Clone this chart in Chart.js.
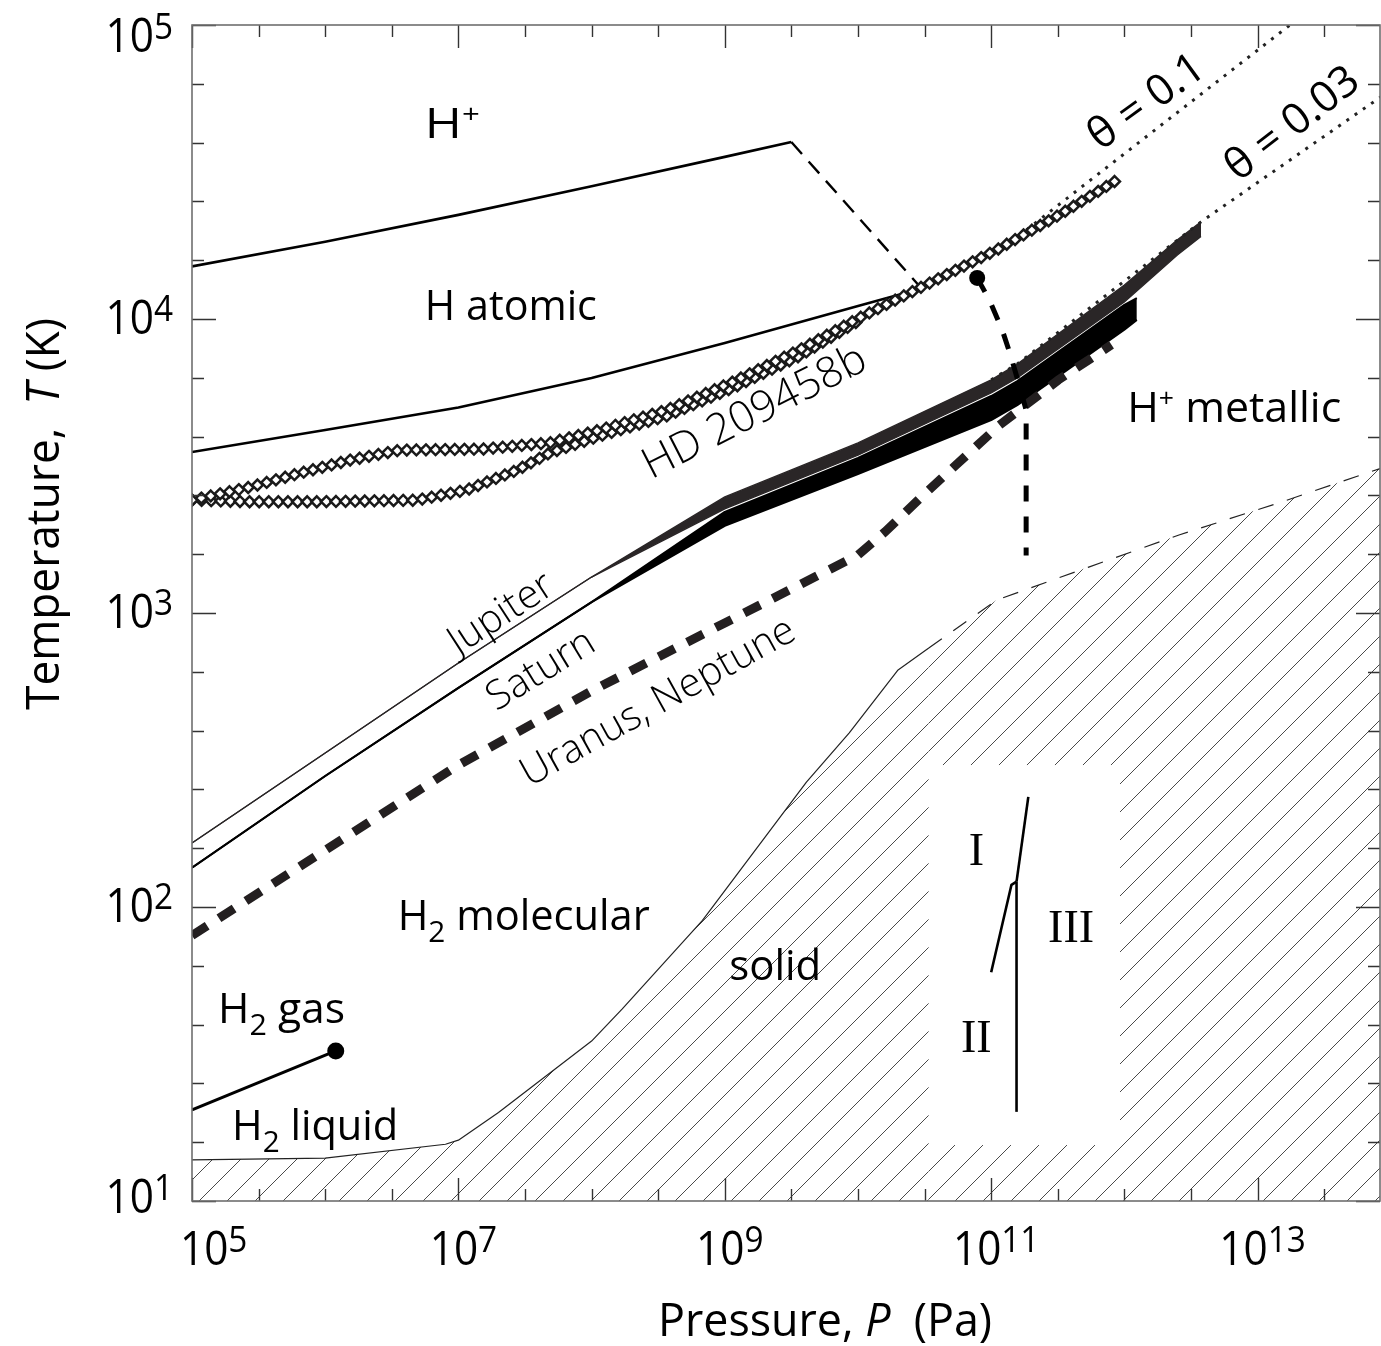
<!DOCTYPE html>
<html>
<head>
<meta charset="utf-8">
<script src="https://cdn.jsdelivr.net/npm/chart.js@4.4.1/dist/chart.umd.min.js"></script>
<style>
  html, body { margin: 0; padding: 0; background: #fff; }
  #wrap { width: 1381px; height: 1346px; }
</style>
</head>
<body>
<div id="wrap"><canvas id="phase" width="1381" height="1346"></canvas></div>
<script>
// axis limits (Pa, K)
const pMin = 1e5, pMax = 8.3e13;
const tMin = 10, tMax = 1e5;
const xTickExp = [5, 7, 9, 11, 13];
const yTickExp = [1, 2, 3, 4, 5];

// H+ / H atomic boundary, then its dashed continuation
const ionP = [1e5, 1e6, 1e7, 1e8, 1e9, 3.16e9];
const ionT = [15100, 18300, 22600, 28300, 35600, 40000];
const ionDashP = [3.16e9, 3.0e10];
const ionDashT = [40000, 12700];

// H atomic / H2 molecular boundary
const atomP = [1e5, 1e6, 1e7, 1e8, 1e9, 1e10, 3.0e10];
const atomT = [3530, 4190, 5000, 6300, 8280, 11070, 12700];

// molecular -> metallic transition (thick dashed) and its end point
const metalP = [7.85e10, 9.7e10, 1.21e11, 1.41e11, 1.62e11, 1.83e11, 1.83e11];
const metalT = [13800, 11600, 9180, 7430, 5970, 4900, 1570];
const metalDotP = [7.85e10];
const metalDotT = [13800];

// liquid-gas line with critical point
const gasP = [1e5, 1.2e6];
const gasT = [20.4, 32.4];

// melting curve (solid part, then dashed extrapolation)
const meltSolidP = [1e5, 1e6, 8e6, 1e7, 2e7, 1e8, 1.7e8, 6.8e8, 4.1e9, 8.6e9, 2e10, 3.4e10];
const meltSolidT = [13.8, 14.0, 15.6, 16.1, 20, 35, 45, 90, 266, 391, 640, 760];
const meltDashP = [3.4e10, 1.1e11, 5.4e11, 2.57e12, 1.45e13, 8.3e13];
const meltDashT = [760, 1107, 1433, 1842, 2370, 3100];

// solid phases I / II / III
const insetBox = { pLo: 3.41e10, pHi: 9.27e11, tLo: 15.5, tHi: 304 };
const phase13P = [1.55e11, 1.9e11];
const phase13T = [122, 237];
const phase12P = [1e11, 1.42e11, 1.55e11];
const phase12T = [60, 119, 122];
const phase23P = [1.55e11, 1.55e11];
const phase23T = [20.1, 122];

// planetary interior profiles
const jupP = [1e5, 1e6, 1e7, 1e8, 1e9, 1e10, 1e11, 1.57e11, 1e12, 2.5e12, 3.76e12];
const jupTopT = [165, 334, 676, 1325, 2483, 3790, 6210, 7030, 13060, 18600, 21400];
const jupLowT = [165, 334, 676, 1325, 2261, 3440, 5600, 6300, 11430, 16500, 19100];
const satP = [1e5, 1e6, 1e7, 1e8, 1e9, 1e10, 1e11, 1.57e11, 1e12, 1.24e12];
const satTopT = [136, 279, 556, 1089, 2207, 3370, 5470, 6150, 11170, 11780];
const satLowT = [136, 279, 556, 1089, 1978, 2970, 4530, 5090, 9190, 9930];
const uraP = [1e5, 1e6, 1e7, 1e8, 1e9, 1e10, 1.6e10, 3.4e10, 1.15e11, 3.2e11, 8e11];
const uraT = [80, 156, 304, 543, 925, 1575, 1890, 2620, 4350, 6210, 8170];

// HD 209458b profiles
const hdAP = [1e5, 2.72e5, 6.46e5, 1.53e6, 3.63e6, 1.51e7, 4.84e7, 1.15e8, 3.66e8, 1.14e9, 3.63e9, 1.02e10, 3.0e10, 1.1e11, 3.24e11, 8.8e11];
const hdAT = [2420, 2680, 2990, 3310, 3580, 3610, 3790, 4190, 4900, 6100, 7850, 10080, 12840, 17180, 22600, 29700];
const hdBP = [1e5, 2.72e5, 8.7e5, 4.9e6, 1.15e7, 2.75e7, 4.84e7, 1.15e8, 3.66e8, 1.14e9, 3.63e9, 1.02e10];
const hdBT = [2420, 2390, 2390, 2420, 2620, 3060, 3500, 4000, 4680, 5820, 7480, 9880];

// degeneracy lines
const theta1P = [1.84e11, 1.75e13];
const theta1T = [20100, 100000];
const theta03P = [1e11, 1.57e11, 3.76e12, 1e14];
const theta03T = [6210, 7030, 21400, 60100];

const FONT = '"Open Sans", "DejaVu Sans", sans-serif';
const SERIF = '"Liberation Serif", "DejaVu Serif", serif';

const pairs = (P, T) => P.map((p, i) => ({ x: p, y: T[i] }));

const canvas = document.getElementById('phase');
const hatch = (() => {
  const c = document.createElement('canvas');
  c.width = 28; c.height = 28;
  const g = c.getContext('2d');
  g.strokeStyle = '#4a4a4a';
  g.lineWidth = 1;
  g.beginPath();
  g.moveTo(-1, 29); g.lineTo(29, -1);
  g.moveTo(-2, 2); g.lineTo(2, -2);
  g.moveTo(26, 30); g.lineTo(30, 26);
  g.stroke();
  return canvas.getContext('2d').createPattern(c, 'repeat');
})();

function line(label, data, color, width, order, extra) {
  return Object.assign({
    label, data, showLine: true, borderColor: color, borderWidth: width,
    pointRadius: 0, fill: false, order, borderJoinStyle: 'round'
  }, extra || {});
}

const meltData = pairs(meltSolidP, meltSolidT).concat(pairs(meltDashP, meltDashT).slice(1));
const solidCount = meltSolidP.length;

const datasets = [
  line('melting curve', meltData, '#222', 1.2, 50, {
    fill: 'start', backgroundColor: hatch,
    segment: { borderDash: c => c.p0DataIndex >= solidCount - 1 ? [16, 14] : undefined }
  }),
  line('I-III', pairs(phase13P, phase13T), '#000', 2.6, 40),
  line('I-II', pairs(phase12P, phase12T), '#000', 2.6, 40),
  line('II-III', pairs(phase23P, phase23T), '#000', 2.6, 40),
  line('liquid-gas', pairs(gasP, gasT), '#000', 3, 30),
  line('ionization', pairs(ionP, ionT), '#000', 2.6, 30),
  line('ionization (extrap.)', pairs(ionDashP, ionDashT), '#000', 2.4, 30, { borderDash: [16, 10], borderCapStyle: 'butt' }),
  line('dissociation', pairs(atomP, atomT), '#000', 2.6, 30),
  line('metallization', pairs(metalP, metalT), '#000', 5, 20, { borderDash: [16, 15], borderCapStyle: 'butt' }),
  line('Jupiter', pairs(jupP, jupTopT), '#2a2627', 1.3, 26, { fill: '+1', backgroundColor: '#2a2627' }),
  line('Jupiter low', pairs(jupP, jupLowT), '#2a2627', 1.3, 26),
  line('Saturn', pairs(satP, satTopT), '#000', 2, 24, { fill: '+1', backgroundColor: '#000' }),
  line('Saturn low', pairs(satP, satLowT), '#000', 2, 24),
  line('Uranus, Neptune', pairs(uraP, uraT), '#231f20', 9, 22, { borderDash: [18, 14], borderCapStyle: 'butt', borderJoinStyle: 'miter' }),
  line('theta 0.1', pairs(theta1P, theta1T), '#222', 3, 15, { borderDash: [3, 7], borderCapStyle: 'butt' }),
  line('theta 0.03', pairs(theta03P, theta03T), '#222', 3, 15, { borderDash: [3, 7], borderCapStyle: 'butt' }),
  line('HD 209458b a', pairs(hdAP, hdAT), 'rgba(0,0,0,0)', 0, 10, { chain: true }),
  line('HD 209458b b', pairs(hdBP, hdBT), 'rgba(0,0,0,0)', 0, 11, { chain: true }),
  { label: 'critical point', data: pairs(gasP.slice(1), gasT.slice(1)), pointRadius: 8.5, backgroundColor: '#000', borderWidth: 0, order: 1 },
  { label: 'metallization end', data: pairs(metalDotP, metalDotT), pointRadius: 8, backgroundColor: '#000', borderWidth: 0, order: 1 }
];

// text helpers: parts are {t, k: ''|'sup'|'sub'|'ion', it}
const SPEC = { '': [1, 0], sup: [0.78, -0.27], sub: [0.72, 0.28], ion: [0.62, -0.36] };
function drawRich(ctx, parts, x, y, size, opt) {
  opt = opt || {};
  const weight = opt.weight || 400;
  const fam = opt.family || FONT;
  const fontOf = p => `${p.it ? 'italic ' : ''}${weight} ${Math.round(size * SPEC[p.k || ''][0])}px ${fam}`;
  const widths = parts.map(p => { ctx.font = fontOf(p); return ctx.measureText(p.t).width; });
  const w = widths.reduce((s, v) => s + v, 0);
  const sx = opt.width ? opt.width / w : (opt.sx || 1);
  ctx.save();
  ctx.translate(x, y);
  if (opt.angle) ctx.rotate(opt.angle * Math.PI / 180);
  ctx.scale(sx, 1);
  let cx = opt.align === 'center' ? -w / 2 : opt.align === 'right' ? -w : 0;
  const dy = opt.middle ? size * 0.36 : 0;
  ctx.textAlign = 'left';
  ctx.textBaseline = 'alphabetic';
  ctx.fillStyle = opt.color || '#000';
  parts.forEach((p, i) => {
    ctx.font = fontOf(p);
    ctx.fillText(p.t, cx, dy + size * SPEC[p.k || ''][1]);
    cx += widths[i];
  });
  ctx.restore();
}

const regionLabels = [
  { parts: [{ t: 'H' }, { t: '+', k: 'ion' }], p: 5.6e6, t: 41300, width: 55 },
  { parts: [{ t: 'H atomic' }], p: 5.6e6, t: 9930, width: 172 },
  { parts: [{ t: 'H' }, { t: '+', k: 'ion' }, { t: ' metallic' }], p: 1.05e12, t: 4470, width: 214 },
  { parts: [{ t: 'H' }, { t: '2', k: 'sub' }, { t: ' molecular' }], p: 3.5e6, t: 83.6, width: 252 },
  { parts: [{ t: 'H' }, { t: '2', k: 'sub' }, { t: ' gas' }], p: 1.57e5, t: 40.3, width: 127 },
  { parts: [{ t: 'H' }, { t: '2', k: 'sub' }, { t: ' liquid' }], p: 2e5, t: 16.1, width: 166 },
  { parts: [{ t: 'solid' }], p: 1.08e9, t: 56.5, width: 92 }
];
const phaseLabels = [
  { t: 'I', p: 7.73e10, T: 139 },
  { t: 'II', p: 7.73e10, T: 32.1 },
  { t: 'III', p: 3.98e11, T: 76 }
];
const curveLabels = [
  { t: 'Jupiter', p: 2.04e7, T: 1010, angle: -33, size: 40, weight: 300 },
  { t: 'Saturn', p: 4.07e7, T: 650, angle: -31.5, size: 40, weight: 300 },
  { t: 'Uranus, Neptune', p: 3.09e8, T: 506, angle: -29, size: 40, weight: 300 },
  { t: 'HD 209458b', p: 1.64e9, T: 4900, angle: -27, size: 43, weight: 300 },
  { t: 'θ = 0.1', p: 1.43e12, T: 55600, angle: -36, size: 43, weight: 400 },
  { t: 'θ = 0.03', p: 1.78e13, T: 46800, angle: -38, size: 43, weight: 400 }
];

// white window for the solid-phase inset, drawn right over the hatching
const insetPlugin = {
  id: 'inset',
  afterDatasetDraw(chart, args) {
    if (chart.data.datasets[args.index].label !== 'melting curve') return;
    const { ctx, scales: { x, y } } = chart;
    const l = x.getPixelForValue(insetBox.pLo), r = x.getPixelForValue(insetBox.pHi);
    const t = y.getPixelForValue(insetBox.tHi), b = y.getPixelForValue(insetBox.tLo);
    ctx.save();
    ctx.fillStyle = '#fff';
    ctx.fillRect(l, t, r - l, b - t);
    ctx.restore();
  }
};

// open diamond markers stamped along a profile
const chainPlugin = {
  id: 'chain',
  afterDatasetDraw(chart, args) {
    const ds = chart.data.datasets[args.index];
    if (!ds.chain) return;
    const pts = args.meta.data.map(e => [e.x, e.y]);
    const { ctx, chartArea: a } = chart;
    const step = 9.6, r = 5.4;
    ctx.save();
    ctx.beginPath();
    ctx.rect(a.left, a.top, a.right - a.left, a.bottom - a.top);
    ctx.clip();
    ctx.lineWidth = 2.5;
    ctx.strokeStyle = '#1a1a1a';
    ctx.fillStyle = '#fff';
    let carry = 0;
    for (let i = 0; i < pts.length - 1; i++) {
      const [x0, y0] = pts[i], [x1, y1] = pts[i + 1];
      const len = Math.hypot(x1 - x0, y1 - y0);
      let d = carry;
      while (d <= len) {
        const cx = x0 + (x1 - x0) * d / len, cy = y0 + (y1 - y0) * d / len;
        ctx.beginPath();
        ctx.moveTo(cx, cy - r); ctx.lineTo(cx + r, cy);
        ctx.lineTo(cx, cy + r); ctx.lineTo(cx - r, cy);
        ctx.closePath();
        ctx.fill(); ctx.stroke();
        d += step;
      }
      carry = d - len;
    }
    ctx.restore();
  }
};

// frame, inward ticks, power-of-ten labels, axis titles and region names
const framePlugin = {
  id: 'frame',
  afterDraw(chart) {
    const { ctx, chartArea: a, scales: { x, y } } = chart;
    ctx.save();
    ctx.strokeStyle = '#333';
    ctx.lineWidth = 1.4;
    ctx.beginPath();
    for (let k = 10; k <= 27; k++) {
      const e = k / 2;
      const px = Math.round(x.getPixelForValue(Math.pow(10, e))) + 0.5;
      const len = (k % 2 === 0 && (e % 2) === 1) ? 23 : 12;
      ctx.moveTo(px, a.bottom); ctx.lineTo(px, a.bottom - len);
      ctx.moveTo(px, a.top); ctx.lineTo(px, a.top + len);
    }
    for (let k = 5; k <= 25; k++) {
      const py = Math.round(y.getPixelForValue(Math.pow(10, k / 5))) + 0.5;
      const len = k % 5 === 0 ? 24 : 12;
      ctx.moveTo(a.left, py); ctx.lineTo(a.left + len, py);
      ctx.moveTo(a.right, py); ctx.lineTo(a.right - len, py);
    }
    ctx.stroke();
    ctx.strokeStyle = '#6f6f6f';
    ctx.lineWidth = 1.6;
    ctx.strokeRect(a.left, a.top, a.right - a.left, a.bottom - a.top);

    yTickExp.forEach(e => {
      const py = y.getPixelForValue(Math.pow(10, e));
      const base = Math.min(1213, Math.max(52, py + 15));
      drawRich(ctx, [{ t: '10' }, { t: String(e), k: 'sup' }], 173, base, 47, { align: 'right', sx: 0.9 });
    });
    xTickExp.forEach((e, i) => {
      const px = x.getPixelForValue(Math.pow(10, e));
      const parts = [{ t: '10' }, { t: String(e), k: 'sup' }];
      if (i === 0) drawRich(ctx, parts, 180, 1265, 47, { sx: 0.9 });
      else drawRich(ctx, parts, px + 5, 1265, 47, { align: 'center', sx: 0.9 });
    });

    drawRich(ctx, [{ t: 'Pressure, ' }, { t: 'P', it: true }, { t: '  (Pa)' }], 825, 1336, 46, { align: 'center', width: 334 });
    drawRich(ctx, [{ t: 'Temperature,  ' }, { t: 'T', it: true }, { t: ' (K)' }], 59, 514, 46, { align: 'center', angle: -90, width: 392 });

    regionLabels.forEach(l => {
      drawRich(ctx, l.parts, x.getPixelForValue(l.p), y.getPixelForValue(l.t), 42, { width: l.width });
    });
    phaseLabels.forEach(l => {
      drawRich(ctx, [{ t: l.t }], x.getPixelForValue(l.p), y.getPixelForValue(l.T), 46, { align: 'center', family: SERIF });
    });
    curveLabels.forEach(l => {
      drawRich(ctx, [{ t: l.t }], x.getPixelForValue(l.p), y.getPixelForValue(l.T), l.size,
        { align: 'center', middle: true, angle: l.angle, weight: l.weight });
    });
    ctx.restore();
  }
};

new Chart(canvas, {
  type: 'scatter',
  data: { datasets },
  options: {
    responsive: false,
    animation: false,
    devicePixelRatio: 1,
    events: [],
    layout: { autoPadding: false, padding: { top: 25, right: 1, left: 0, bottom: 0 } },
    elements: { point: { radius: 0 } },
    plugins: { legend: { display: false }, tooltip: { enabled: false } },
    scales: {
      x: {
        type: 'logarithmic', min: pMin, max: pMax,
        ticks: { display: false }, grid: { display: false, drawTicks: false }, border: { display: false },
        afterFit(s) { s.height = 145; }
      },
      y: {
        type: 'logarithmic', min: tMin, max: tMax,
        ticks: { display: false }, grid: { display: false, drawTicks: false }, border: { display: false },
        afterFit(s) { s.width = 192; }
      }
    }
  },
  plugins: [insetPlugin, chainPlugin, framePlugin]
});
</script>
</body>
</html>
